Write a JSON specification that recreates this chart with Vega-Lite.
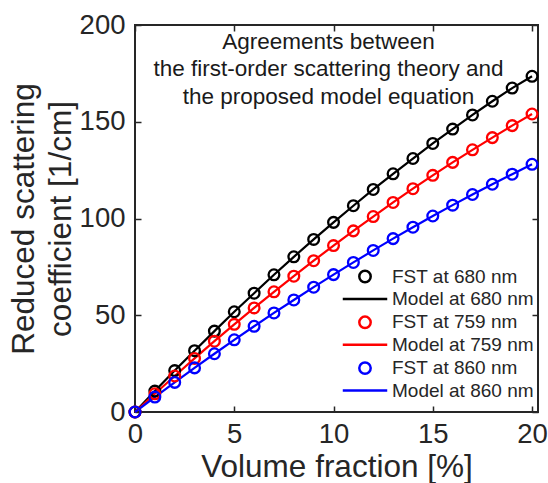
{
  "$schema": "https://vega.github.io/schema/vega-lite/v6.json",
  "width": 403,
  "height": 387,
  "autosize": "none",
  "padding": {"left": 135, "top": 25, "right": 10, "bottom": 71},
  "background": "white",
  "config": {
    "font": "Liberation Sans",
    "view": {"stroke": "#262626", "strokeWidth": 2},
    "axis": {"grid": false, "domain": false, "tickColor": "#262626", "tickWidth": 1.5, "labelColor": "#262626", "titleColor": "#262626", "labelFont": "Liberation Sans", "titleFont": "Liberation Sans", "titleFontWeight": "normal"}
  },
  "title": {
    "text": ["Agreements between", "the first-order scattering theory and", "the proposed model equation"],
    "fontSize": 22.5,
    "fontWeight": "normal",
    "lineHeight": 27.5,
    "color": "#1a1a1a",
    "anchor": "middle",
    "frame": "group",
    "orient": "top",
    "baseline": "top",
    "offset": -97,
    "dx": -8
  },
  "data": {
    "values": [
      {"x": 0, "y": 0, "fst": "FST at 680 nm", "model": "Model at 680 nm"},
      {"x": 1, "y": 10.8, "fst": "FST at 680 nm", "model": "Model at 680 nm"},
      {"x": 2, "y": 21.4, "fst": "FST at 680 nm", "model": "Model at 680 nm"},
      {"x": 3, "y": 31.7, "fst": "FST at 680 nm", "model": "Model at 680 nm"},
      {"x": 4, "y": 41.8, "fst": "FST at 680 nm", "model": "Model at 680 nm"},
      {"x": 5, "y": 51.8, "fst": "FST at 680 nm", "model": "Model at 680 nm"},
      {"x": 6, "y": 61.4, "fst": "FST at 680 nm", "model": "Model at 680 nm"},
      {"x": 7, "y": 70.9, "fst": "FST at 680 nm", "model": "Model at 680 nm"},
      {"x": 8, "y": 80.2, "fst": "FST at 680 nm", "model": "Model at 680 nm"},
      {"x": 9, "y": 89.2, "fst": "FST at 680 nm", "model": "Model at 680 nm"},
      {"x": 10, "y": 98.0, "fst": "FST at 680 nm", "model": "Model at 680 nm"},
      {"x": 11, "y": 106.6, "fst": "FST at 680 nm", "model": "Model at 680 nm"},
      {"x": 12, "y": 115.0, "fst": "FST at 680 nm", "model": "Model at 680 nm"},
      {"x": 13, "y": 123.1, "fst": "FST at 680 nm", "model": "Model at 680 nm"},
      {"x": 14, "y": 131.0, "fst": "FST at 680 nm", "model": "Model at 680 nm"},
      {"x": 15, "y": 138.8, "fst": "FST at 680 nm", "model": "Model at 680 nm"},
      {"x": 16, "y": 146.2, "fst": "FST at 680 nm", "model": "Model at 680 nm"},
      {"x": 17, "y": 153.5, "fst": "FST at 680 nm", "model": "Model at 680 nm"},
      {"x": 18, "y": 160.6, "fst": "FST at 680 nm", "model": "Model at 680 nm"},
      {"x": 19, "y": 167.4, "fst": "FST at 680 nm", "model": "Model at 680 nm"},
      {"x": 20, "y": 173.5, "fst": "FST at 680 nm", "model": "Model at 680 nm"},
      {"x": 0, "y": 0, "fst": "FST at 759 nm", "model": "Model at 759 nm"},
      {"x": 1, "y": 9.4, "fst": "FST at 759 nm", "model": "Model at 759 nm"},
      {"x": 2, "y": 18.6, "fst": "FST at 759 nm", "model": "Model at 759 nm"},
      {"x": 3, "y": 27.7, "fst": "FST at 759 nm", "model": "Model at 759 nm"},
      {"x": 4, "y": 36.6, "fst": "FST at 759 nm", "model": "Model at 759 nm"},
      {"x": 5, "y": 45.3, "fst": "FST at 759 nm", "model": "Model at 759 nm"},
      {"x": 6, "y": 53.8, "fst": "FST at 759 nm", "model": "Model at 759 nm"},
      {"x": 7, "y": 62.1, "fst": "FST at 759 nm", "model": "Model at 759 nm"},
      {"x": 8, "y": 70.2, "fst": "FST at 759 nm", "model": "Model at 759 nm"},
      {"x": 9, "y": 78.2, "fst": "FST at 759 nm", "model": "Model at 759 nm"},
      {"x": 10, "y": 86.0, "fst": "FST at 759 nm", "model": "Model at 759 nm"},
      {"x": 11, "y": 93.6, "fst": "FST at 759 nm", "model": "Model at 759 nm"},
      {"x": 12, "y": 101.0, "fst": "FST at 759 nm", "model": "Model at 759 nm"},
      {"x": 13, "y": 108.3, "fst": "FST at 759 nm", "model": "Model at 759 nm"},
      {"x": 14, "y": 115.4, "fst": "FST at 759 nm", "model": "Model at 759 nm"},
      {"x": 15, "y": 122.3, "fst": "FST at 759 nm", "model": "Model at 759 nm"},
      {"x": 16, "y": 129.0, "fst": "FST at 759 nm", "model": "Model at 759 nm"},
      {"x": 17, "y": 135.5, "fst": "FST at 759 nm", "model": "Model at 759 nm"},
      {"x": 18, "y": 141.8, "fst": "FST at 759 nm", "model": "Model at 759 nm"},
      {"x": 19, "y": 148.0, "fst": "FST at 759 nm", "model": "Model at 759 nm"},
      {"x": 20, "y": 154.0, "fst": "FST at 759 nm", "model": "Model at 759 nm"},
      {"x": 0, "y": 0, "fst": "FST at 860 nm", "model": "Model at 860 nm"},
      {"x": 1, "y": 7.7, "fst": "FST at 860 nm", "model": "Model at 860 nm"},
      {"x": 2, "y": 15.3, "fst": "FST at 860 nm", "model": "Model at 860 nm"},
      {"x": 3, "y": 22.8, "fst": "FST at 860 nm", "model": "Model at 860 nm"},
      {"x": 4, "y": 30.1, "fst": "FST at 860 nm", "model": "Model at 860 nm"},
      {"x": 5, "y": 37.3, "fst": "FST at 860 nm", "model": "Model at 860 nm"},
      {"x": 6, "y": 44.3, "fst": "FST at 860 nm", "model": "Model at 860 nm"},
      {"x": 7, "y": 51.2, "fst": "FST at 860 nm", "model": "Model at 860 nm"},
      {"x": 8, "y": 57.9, "fst": "FST at 860 nm", "model": "Model at 860 nm"},
      {"x": 9, "y": 64.5, "fst": "FST at 860 nm", "model": "Model at 860 nm"},
      {"x": 10, "y": 71.0, "fst": "FST at 860 nm", "model": "Model at 860 nm"},
      {"x": 11, "y": 77.3, "fst": "FST at 860 nm", "model": "Model at 860 nm"},
      {"x": 12, "y": 83.5, "fst": "FST at 860 nm", "model": "Model at 860 nm"},
      {"x": 13, "y": 89.6, "fst": "FST at 860 nm", "model": "Model at 860 nm"},
      {"x": 14, "y": 95.5, "fst": "FST at 860 nm", "model": "Model at 860 nm"},
      {"x": 15, "y": 101.3, "fst": "FST at 860 nm", "model": "Model at 860 nm"},
      {"x": 16, "y": 106.9, "fst": "FST at 860 nm", "model": "Model at 860 nm"},
      {"x": 17, "y": 112.4, "fst": "FST at 860 nm", "model": "Model at 860 nm"},
      {"x": 18, "y": 117.7, "fst": "FST at 860 nm", "model": "Model at 860 nm"},
      {"x": 19, "y": 122.9, "fst": "FST at 860 nm", "model": "Model at 860 nm"},
      {"x": 20, "y": 128.0, "fst": "FST at 860 nm", "model": "Model at 860 nm"}
    ]
  },
  "resolve": {"axis": {"x": "independent", "y": "independent"}},
  "layer": [
    {
      "mark": {"type": "line", "strokeWidth": 2.2},
      "encoding": {
        "x": {"field": "x", "type": "quantitative", "scale": {"domain": [0, 20.3], "nice": false, "zero": false},
          "axis": {"orient": "bottom", "values": [0, 5, 10, 15, 20], "tickSize": -6, "labelFontSize": 27.5, "labelPadding": 14, "title": "Volume fraction [%]", "titleFontSize": 31.5, "titlePadding": 4, "labelFlush": false}},
        "y": {"field": "y", "type": "quantitative", "scale": {"domain": [0, 200], "nice": false},
          "axis": {"orient": "left", "values": [0, 50, 100, 150, 200], "tickSize": -6, "labelFontSize": 27.5, "labelPadding": 16, "title": ["Reduced scattering", "coefficient [1/cm]"], "titleFontSize": 31.5, "titleLineHeight": 37, "titlePadding": 2, "labelFlush": false}},
        "color": {"field": "model", "type": "nominal",
          "scale": {"domain": ["FST at 680 nm", "Model at 680 nm", "FST at 759 nm", "Model at 759 nm", "FST at 860 nm", "Model at 860 nm"], "range": ["#000000", "#000000", "#ff0000", "#ff0000", "#0000ff", "#0000ff"]},
          "legend": {
            "title": null,
            "orient": "none",
            "legendX": 220.5,
            "legendY": 242,
            "padding": 0,
            "labelFontSize": 19,
            "labelColor": "#262626",
            "labelOffset": 17.5,
            "rowPadding": 1.4,
            "symbolSize": 130,
            "symbolStrokeWidth": 2.5,
            "encode": {"symbols": {"update": {
              "shape": {"signal": "indexof(datum.value, 'Model') === 0 ? 'M-3.9,0H3.9' : 'circle'"},
              "fill": {"value": "transparent"},
              "stroke": {"signal": "scale('color', datum.value)"},
              "strokeWidth": {"value": 2.5},
              "opacity": {"value": 1}
            }}}
          }}
      }
    },
    {
      "mark": {"type": "point", "shape": "circle", "filled": false, "size": 115, "strokeWidth": 2.3, "opacity": 1},
      "encoding": {
        "x": {"field": "x", "type": "quantitative",
          "axis": {"orient": "top", "values": [0, 5, 10, 15, 20], "tickSize": -6, "labels": false, "title": null}},
        "y": {"field": "y", "type": "quantitative",
          "axis": {"orient": "right", "values": [0, 50, 100, 150, 200], "tickSize": -6, "labels": false, "title": null}},
        "color": {"field": "fst", "type": "nominal"}
      }
    }
  ]
}
